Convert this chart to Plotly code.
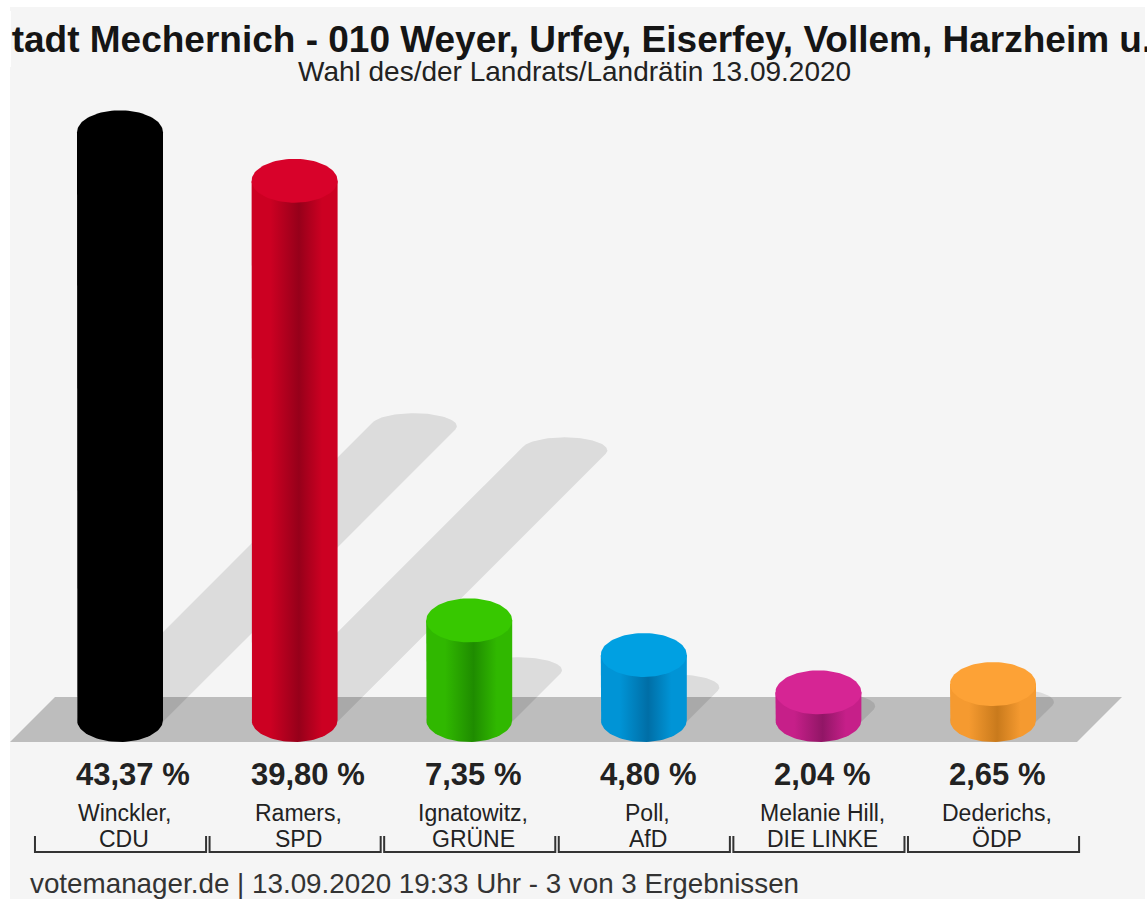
import numpy as np
import plotly.graph_objects as go

# ---------------- data ----------------
candidates = ["Winckler,", "Ramers,", "Ignatowitz,", "Poll,", "Melanie Hill,", "Dederichs,"]
parties = ["CDU", "SPD", "GRÜNE", "AfD", "DIE LINKE", "ÖDP"]
values = [43.37, 39.80, 7.35, 4.80, 2.04, 2.65]
value_labels = ["43,37 %", "39,80 %", "7,35 %", "4,80 %", "2,04 %", "2,65 %"]

top_colors = ["#000000", "#d8022a", "#37c800", "#00a0e2", "#d62594", "#fda236"]
side_colors = ["#000000", "#cc0022", "#30b800", "#0094d6", "#c61f89", "#f59a30"]
dark_colors = ["#000000", "#96001a", "#1f8c00", "#006ea6", "#911666", "#c97a1c"]

title = "Stadt Mechernich - 010 Weyer, Urfey, Eiserfey, Vollem, Harzheim u.a."
subtitle = "Wahl des/der Landrats/Landrätin 13.09.2020"
footer = "votemanager.de | 13.09.2020 19:33 Uhr - 3 von 3 Ergebnissen"

# ---------------- geometry ----------------
W, H = 1147, 906
PX_PER_CAT = 174.6
X0_PX = 120.0
PX_PER_PCT = 13.55
Y0_PX = 720.0

x_range = [-X0_PX / PX_PER_CAT, (W - X0_PX) / PX_PER_CAT]
y_range = [(Y0_PX - H) / PX_PER_PCT, Y0_PX / PX_PER_PCT]


def dx(px):
    return px / PX_PER_CAT


def dy(px):
    return px / PX_PER_PCT


RX = dx(43)
RY = dy(22)
RYS = dy(13)
t = np.linspace(0, 2 * np.pi, 97)


def ellipse(cx, cy, rx, ry):
    return cx + rx * np.cos(t), cy + ry * np.sin(t)


def hull(xs, ys):
    pts = sorted(set(zip(np.round(xs, 6), np.round(ys, 6))))

    def cross(o, a, b):
        return (a[0] - o[0]) * (b[1] - o[1]) - (a[1] - o[1]) * (b[0] - o[0])

    lower, upper = [], []
    for p in pts:
        while len(lower) >= 2 and cross(lower[-2], lower[-1], p) <= 0:
            lower.pop()
        lower.append(p)
    for p in reversed(pts):
        while len(upper) >= 2 and cross(upper[-2], upper[-1], p) <= 0:
            upper.pop()
        upper.append(p)
    h = lower[:-1] + upper[:-1]
    h.append(h[0])
    return [p[0] for p in h], [p[1] for p in h]


fig = go.Figure()
n = len(values)

# floor
fl_bot = -dy(22)
fl_top = dy(23)
slant = dx(45)
floor_x = [-0.63, n - 1 + 0.481, n - 1 + 0.481 + slant, -0.63 + slant, -0.63]
floor_y = [fl_bot, fl_bot, fl_top, fl_top, fl_bot]
fig.add_trace(go.Scatter(x=floor_x, y=floor_y, fill="toself", fillcolor="#bdbdbd",
                         line=dict(width=0), mode="lines", hoverinfo="skip"))

# shadows
for i, v in enumerate(values):
    bx, by = ellipse(i, 0, RX, RYS)
    sx, sy = ellipse(i + v * PX_PER_PCT / 2 / PX_PER_CAT, v / 2, RX, RYS)
    hx, hy = hull(np.concatenate([bx, sx]), np.concatenate([by, sy]))
    fig.add_trace(go.Scatter(x=hx, y=hy, fill="toself", fillcolor="rgba(0,0,0,0.10)",
                             line=dict(width=0), mode="lines", hoverinfo="skip"))

# cylinders
half = np.linspace(0, np.pi, 49)
for i, v in enumerate(values):
    bx = list(i - RX * np.cos(half))
    by = list(-RY * np.sin(half))
    body_x = [i - RX] + bx + [i + RX, i + RX, i - RX]
    body_y = [v] + by + [v, v, v]
    cs = [[0, side_colors[i]], [0.22, side_colors[i]], [0.55, dark_colors[i]],
          [0.82, side_colors[i]], [1, side_colors[i]]]
    fig.add_trace(go.Scatter(x=body_x, y=body_y, fill="toself",
                             fillcolor=side_colors[i],
                             fillgradient=dict(type="horizontal", colorscale=cs,
                                               start=i - RX, stop=i + RX),
                             line=dict(width=0), mode="lines", hoverinfo="skip"))
    ex, ey = ellipse(i, v, RX, RY)
    fig.add_trace(go.Scatter(x=ex, y=ey, fill="toself", fillcolor=top_colors[i],
                             line=dict(width=0), mode="lines", hoverinfo="skip"))

# brackets
line_y = dy(Y0_PX - 852)
tick_y = dy(Y0_PX - 836)
for i in range(n):
    fig.add_trace(go.Scatter(x=[i - 0.487, i - 0.487, i + 0.493, i + 0.493],
                             y=[tick_y, line_y, line_y, tick_y], mode="lines",
                             line=dict(color="#333333", width=2), hoverinfo="skip"))

FONT = "Liberation Sans, Arial, Helvetica, sans-serif"
ann = []
for i in range(n):
    ann.append(dict(x=i, y=dy(Y0_PX - 774), xref="x", yref="y", text=value_labels[i],
                    showarrow=False, xanchor="left", xshift=-46,
                    font=dict(family=FONT, size=31, color="#222222", weight="bold")))
    ann.append(dict(x=i, y=dy(Y0_PX - 813), xref="x", yref="y", text=candidates[i],
                    showarrow=False, xshift=4,
                    font=dict(family=FONT, size=23, color="#222222")))
    ann.append(dict(x=i, y=dy(Y0_PX - 839), xref="x", yref="y", text=parties[i],
                    showarrow=False, xshift=4,
                    font=dict(family=FONT, size=23, color="#222222")))

ann.append(dict(x=585 / W, y=1 - 39 / H, xref="paper", yref="paper", text=title,
                showarrow=False, xanchor="center", yanchor="middle",
                font=dict(family=FONT, size=37, color="#151515", weight="bold")))
# white margin strip hiding the title overflow at the left edge, as in the reference
ann.append(dict(x=0, y=1 - 39 / H, xref="paper", yref="paper", text=".",
                showarrow=False, xanchor="left", yanchor="middle", width=11, height=56,
                bgcolor="#ffffff", borderpad=0, borderwidth=0,
                font=dict(size=10, color="#ffffff")))
ann.append(dict(x=574 / W, y=1 - 72 / H, xref="paper", yref="paper", text=subtitle,
                showarrow=False, xanchor="center", yanchor="middle",
                font=dict(family=FONT, size=28, color="#222222")))
ann.append(dict(x=28 / W, y=1 - 883 / H, xref="paper", yref="paper", text=footer,
                showarrow=False, xanchor="left", yanchor="middle",
                font=dict(family=FONT, size=27.8, color="#333333")))

fig.update_layout(
    width=W, height=H, margin=dict(l=0, r=0, t=0, b=0),
    paper_bgcolor="white", plot_bgcolor="rgba(0,0,0,0)",
    showlegend=False, hovermode=False,
    xaxis=dict(range=x_range, visible=False, fixedrange=True),
    yaxis=dict(range=y_range, visible=False, fixedrange=True),
    annotations=ann,
    shapes=[dict(type="rect", xref="paper", yref="paper", x0=10 / W, x1=1145 / W,
                 y0=1 - 899 / H, y1=1 - 7 / H, fillcolor="#f5f5f5",
                 line=dict(width=0), layer="below")],
)

fig.write_html("out.html", config={"displayModeBar": False},
               post_script="document.body.style.margin='0';document.body.style.overflow='hidden';")
